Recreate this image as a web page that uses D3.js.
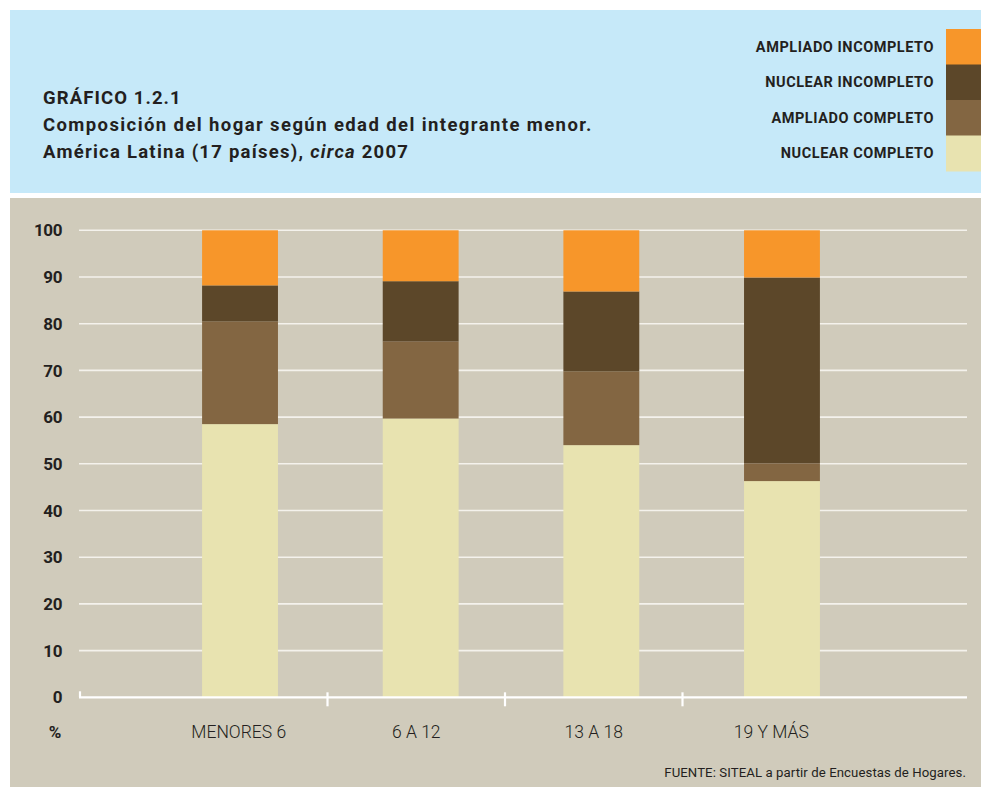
<!DOCTYPE html>
<html><head><meta charset="utf-8">
<script src="https://cdn.jsdelivr.net/npm/d3@7"></script>
<style>
html,body{margin:0;padding:0;background:#fff;}
svg{display:block;font-family:Roboto,"Open Sans",sans-serif;}
</style></head>
<body>
<svg id="chart" width="981" height="787"></svg>
<script>
const categories = ["MENORES 6", "6 A 12", "13 A 18", "19 Y MÁS"];
const seriesNames = ["NUCLEAR COMPLETO", "AMPLIADO COMPLETO", "NUCLEAR INCOMPLETO", "AMPLIADO INCOMPLETO"];
const nuclearCompleto    = [58.5, 59.7, 54.0, 46.3];
const ampliadoCompleto   = [22.0, 16.5, 15.8, 3.8];
const nuclearIncompleto  = [7.7, 12.9, 17.1, 39.8];
const ampliadoIncompleto = [11.8, 10.9, 13.1, 10.1];
const seriesColors = ["#e8e3b0", "#836642", "#5c4729", "#f7962a"];
const yTicks = [0, 10, 20, 30, 40, 50, 60, 70, 80, 90, 100];
const titleLines = ["GRÁFICO 1.2.1", "Composición del hogar según edad del integrante menor."];
const sourceText = "FUENTE: SITEAL a partir de Encuestas de Hogares.";

const svg = d3.select("#chart");
const ink = "#231f20";

// panels
svg.append("rect").attr("x", 10).attr("y", 10).attr("width", 971).attr("height", 183).attr("fill", "#c6e9f9");
svg.append("rect").attr("x", 10).attr("y", 198).attr("width", 971).attr("height", 589).attr("fill", "#d0cbbb");

// title
const tg = svg.append("g").attr("fill", ink).attr("font-weight", "bold").attr("font-size", 18.5).attr("letter-spacing", 1.1);
tg.append("text").attr("x", 43).attr("y", 104).text(titleLines[0]);
tg.append("text").attr("x", 43).attr("y", 131).attr("letter-spacing", 1.4).text(titleLines[1]);
const t3 = tg.append("text").attr("x", 43).attr("y", 158).attr("letter-spacing", 1.25);
t3.append("tspan").text("América Latina (17 países), ");
t3.append("tspan").attr("font-style", "italic").text("circa");
t3.append("tspan").text(" 2007");

// legend
const legendOrder = [3, 2, 1, 0];
const lg = svg.append("g");
const legY = d3.scaleBand().domain(legendOrder).range([29, 171]);
legendOrder.forEach(i => {
  lg.append("rect").attr("x", 946).attr("y", legY(i)).attr("width", 35).attr("height", legY.bandwidth() + 0.5).attr("fill", seriesColors[i]);
  lg.append("text").attr("x", 934).attr("y", legY(i) + legY.bandwidth() / 2 + 1)
    .attr("dominant-baseline", "middle").attr("text-anchor", "end")
    .attr("font-size", 14.5).attr("font-weight", "bold").attr("letter-spacing", 0.55).attr("fill", ink)
    .text(seriesNames[i]);
});

// scales
const y = d3.scaleLinear().domain([0, 100]).range([697.3, 230.3]);
const x = d3.scaleBand().domain(categories).range([149.7, 872.3]).paddingInner(0.58).paddingOuter(0.29);
const xt = d3.scaleBand().domain(categories).range([150, 860]);

// gridlines
svg.append("g").selectAll("line").data(yTicks.filter(d => d > 0)).join("line")
  .attr("x1", 79).attr("x2", 967).attr("y1", d => y(d)).attr("y2", d => y(d))
  .attr("stroke", "#f4f2ec").attr("stroke-width", 1.6);

// y labels
svg.append("g").selectAll("text").data(yTicks).join("text")
  .attr("x", 62).attr("y", d => y(d)).attr("dy", "0.36em").attr("text-anchor", "end")
  .attr("font-size", 17).attr("letter-spacing", -0.4).attr("font-weight", "bold").attr("fill", ink).text(d => d);

// stacked bars
const rows = categories.map((c, i) => ({cat: c, s0: nuclearCompleto[i], s1: ampliadoCompleto[i], s2: nuclearIncompleto[i], s3: ampliadoIncompleto[i]}));
const stack = d3.stack().keys(["s0", "s1", "s2", "s3"])(rows);
svg.append("g").selectAll("g").data(stack).join("g").attr("fill", (d, i) => seriesColors[i])
  .selectAll("rect").data(d => d).join("rect")
  .attr("x", d => x(d.data.cat)).attr("width", x.bandwidth())
  .attr("y", d => y(d[1])).attr("height", d => y(d[0]) - y(d[1]));

// x axis
const ax = svg.append("g").attr("stroke", "#fff").attr("stroke-width", 2.2);
ax.append("line").attr("x1", 79).attr("x2", 967).attr("y1", y(0)).attr("y2", y(0));
ax.append("line").attr("x1", 80).attr("x2", 80).attr("y1", y(0) - 6).attr("y2", y(0));
ax.selectAll("line.tk").data(categories.slice(1)).join("line").attr("class", "tk")
  .attr("x1", d => xt(d)).attr("x2", d => xt(d)).attr("y1", y(0) - 5).attr("y2", y(0) + 9);

svg.append("g").selectAll("text").data(categories).join("text")
  .attr("x", d => xt(d) + xt.bandwidth() / 2).attr("y", 732).attr("dy", "0.36em")
  .attr("text-anchor", "middle").attr("font-size", 17.5).attr("font-weight", 300).attr("fill", ink).text(d => d);

svg.append("text").attr("x", 55).attr("y", 732).attr("dy", "0.36em").attr("text-anchor", "middle")
  .attr("font-size", 17).attr("font-weight", "bold").attr("fill", ink).text("%");

svg.append("text").attr("x", 966).attr("y", 777).attr("text-anchor", "end")
  .attr("font-size", 13.2).attr("letter-spacing", 0.08).attr("fill", ink).text(sourceText);
</script>
</body></html>
